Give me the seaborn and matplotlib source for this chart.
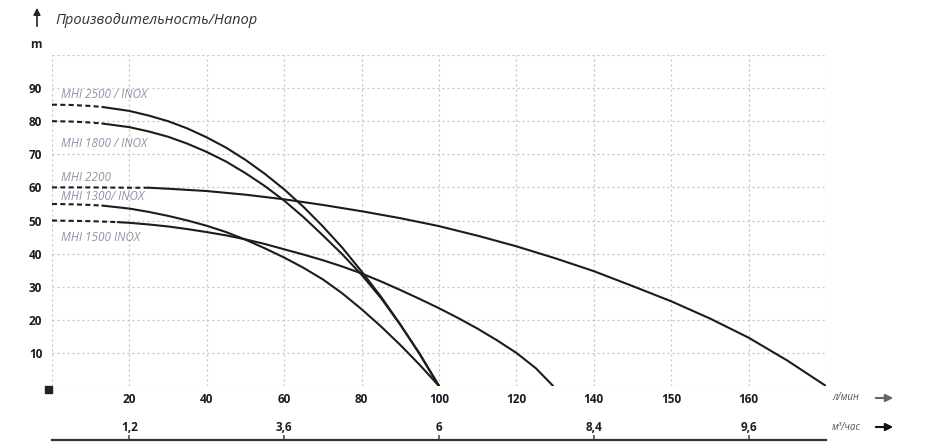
import matplotlib
matplotlib.use("Agg")
import matplotlib.pyplot as plt
from matplotlib.patches import Rectangle
import seaborn as sns
import pandas as pd

# ---------------- data ----------------
x_tick_pos = [0, 20, 40, 60, 80, 100, 120, 140, 160, 180, 200]
x_tick_labels = ["", "20", "40", "60", "80", "100", "120", "140", "150", "160", ""]
y_tick_pos = [0, 10, 20, 30, 40, 50, 60, 70, 80, 90, 100]
y_tick_labels = ["", "10", "20", "30", "40", "50", "60", "70", "80", "90", ""]
m3_tick_pos = [20, 60, 100, 140, 180]
m3_tick_labels = ["1,2", "3,6", "6", "8,4", "9,6"]

q_2500 = [0, 5, 10, 13, 20, 25, 30, 35, 40, 45, 50, 55, 60, 65, 70, 75, 80, 85, 90, 95, 100]
h_2500 = [85.0, 84.9, 84.6, 84.3, 83.1, 81.7, 80.0, 77.8, 75.1, 72.0, 68.3, 64.1, 59.4,
          54.1, 48.2, 41.8, 34.6, 27.0, 18.6, 9.6, 0]
q_1800 = [0, 5, 10, 13, 20, 25, 30, 35, 40, 45, 50, 55, 60, 65, 70, 75, 80, 85, 90, 95, 100]
h_1800 = [80.0, 79.9, 79.6, 79.3, 78.2, 76.9, 75.3, 73.2, 70.7, 67.8, 64.3, 60.4, 56.0,
          51.0, 45.5, 39.8, 33.6, 26.6, 18.5, 9.8, 0]
q_2200 = [0, 10, 20, 25, 30, 40, 50, 60, 70, 80, 90, 100, 110, 120, 130, 140, 150, 160,
          170, 180, 190, 200]
h_2200 = [60.0, 60.0, 59.9, 59.9, 59.6, 58.9, 57.8, 56.4, 54.7, 52.8, 50.7, 48.3, 45.4,
          42.2, 38.6, 34.7, 30.2, 25.6, 20.4, 14.6, 7.7, 0]
q_1300 = [0, 5, 10, 13, 20, 25, 30, 35, 40, 45, 50, 55, 60, 65, 70, 75, 80, 85, 90, 95, 100]
h_1300 = [55.0, 54.9, 54.7, 54.5, 53.6, 52.6, 51.4, 50.0, 48.4, 46.5, 44.2, 41.6, 38.8,
          35.7, 32.2, 28.0, 23.2, 18.0, 12.4, 6.4, 0]
q_1500 = [0, 5, 10, 15, 17, 20, 25, 30, 35, 40, 45, 50, 55, 60, 65, 70, 75, 80, 85, 90,
          95, 100, 105, 110, 115, 120, 125, 129.5]
h_1500 = [50.0, 49.9, 49.8, 49.6, 49.5, 49.3, 48.8, 48.2, 47.4, 46.5, 45.5, 44.3, 42.9,
          41.3, 39.7, 38.0, 36.1, 34.0, 31.6, 29.0, 26.3, 23.5, 20.5, 17.3, 13.8, 10.0, 5.4, 0]

series_names = ["MHI 2500 / INOX", "MHI 1800 / INOX", "MHI 2200", "MHI 1300/ INOX", "MHI 1500 INOX"]
series_q = [q_2500, q_1800, q_2200, q_1300, q_1500]
series_h = [h_2500, h_1800, h_2200, h_1300, h_1500]
dash_end = [13, 13, 25, 13, 17]          # flow where the dashed start of each curve ends
label_y = [88.2, 73.4, 63.1, 57.1, 45.0]  # label heights (m)

# ---------------- build long table ----------------
rows = []
for name, qs, hs, de in zip(series_names, series_q, series_h, dash_end):
    for q, h in zip(qs, hs):
        if q <= de:
            rows.append((name, "dash", q, h))
        if q >= de:
            rows.append((name, "solid", q, h))
df = pd.DataFrame(rows, columns=["series", "seg", "q", "h"])

# ---------------- style ----------------
sns.set_theme(style="white")
plt.rcParams["font.family"] = ["Open Sans", "DejaVu Sans"]

W, H = 945, 442
fig = plt.figure(figsize=(W / 100, H / 100), dpi=100)
ax = fig.add_axes([52 / W, 1 - 386 / H, 774 / W, 331 / H])

sns.lineplot(data=df, x="q", y="h", hue="series", style="seg",
             palette={n: "#1c1c1c" for n in series_names},
             dashes={"dash": (2.4, 1.6), "solid": ""},
             estimator=None, sort=False, linewidth=1.5, legend=False, ax=ax)

ax.set_xlim(0, 200)
ax.set_ylim(0, 100)
ax.set_xticks(x_tick_pos, labels=x_tick_labels)
ax.set_yticks(y_tick_pos, labels=y_tick_labels)
ax.grid(True, linestyle=(0, (1.6, 2.4)), color="#c2c2c2", linewidth=0.9)
ax.set_axisbelow(True)
for s in ax.spines.values():
    s.set_visible(False)
ax.set_xlabel("")
ax.set_ylabel("")
ax.tick_params(axis="both", length=0, labelsize=8.5, colors="#1c1c28")
ax.tick_params(axis="y", pad=7)
ax.tick_params(axis="x", pad=5)
for lbl in ax.get_xticklabels() + ax.get_yticklabels():
    lbl.set_fontweight("bold")

# curve labels
for name, ly in zip(series_names, label_y):
    ax.text(2.3, ly, name, fontsize=8.5, style="italic", color="#8d94a6",
            va="center", ha="left")

# secondary (m3/h) axis: line with ticks pointing up, labels above it
sec = ax.secondary_xaxis(-0.163)
sec.set_xticks(m3_tick_pos, labels=m3_tick_labels)
sec.tick_params(axis="x", which="both", top=True, bottom=False, labeltop=True,
                labelbottom=False, direction="out", length=3.5, width=1.2,
                color="#555555", labelsize=8.5, labelcolor="#1c1c28", pad=0.5)
for lbl in sec.get_xticklabels():
    lbl.set_fontweight("bold")
for side, s in sec.spines.items():
    s.set_visible(side == "bottom")
    s.set_color("#333333")
    s.set_linewidth(1.6)

# decorations
fig.text(55 / W, 1 - 20 / H, "Производительность/Напор", fontsize=10.5, style="italic",
         color="#333333", va="center", ha="left")
fig.text(36 / W, 1 - 45 / H, "m", fontsize=8.5, fontweight="bold", color="#1c1c28",
         va="center", ha="center")
ax.annotate("", xy=(37 / W, 1 - 5 / H), xytext=(37 / W, 1 - 29 / H),
            xycoords="figure fraction", textcoords="figure fraction",
            arrowprops=dict(arrowstyle="-|>", color="#222222", lw=1.2, mutation_scale=10))
fig.add_artist(Rectangle((45 / W, 1 - 393 / H), 7 / W, 7 / H,
                         transform=fig.transFigure, color="#222222"))

fig.text(832 / W, 1 - 398 / H, "л/мин", fontsize=7, style="italic", color="#555555",
         va="center", ha="left")
fig.text(832 / W, 1 - 427 / H, "м³/час", fontsize=7, style="italic", color="#555555",
         va="center", ha="left")
ax.annotate("", xy=(896 / W, 1 - 398 / H), xytext=(873 / W, 1 - 398 / H),
            xycoords="figure fraction", textcoords="figure fraction",
            arrowprops=dict(arrowstyle="-|>", color="#666666", lw=1.5, mutation_scale=11))
ax.annotate("", xy=(896 / W, 1 - 427 / H), xytext=(873 / W, 1 - 427 / H),
            xycoords="figure fraction", textcoords="figure fraction",
            arrowprops=dict(arrowstyle="-|>", color="#111111", lw=1.5, mutation_scale=11))

fig.savefig("out.png", dpi=100)
